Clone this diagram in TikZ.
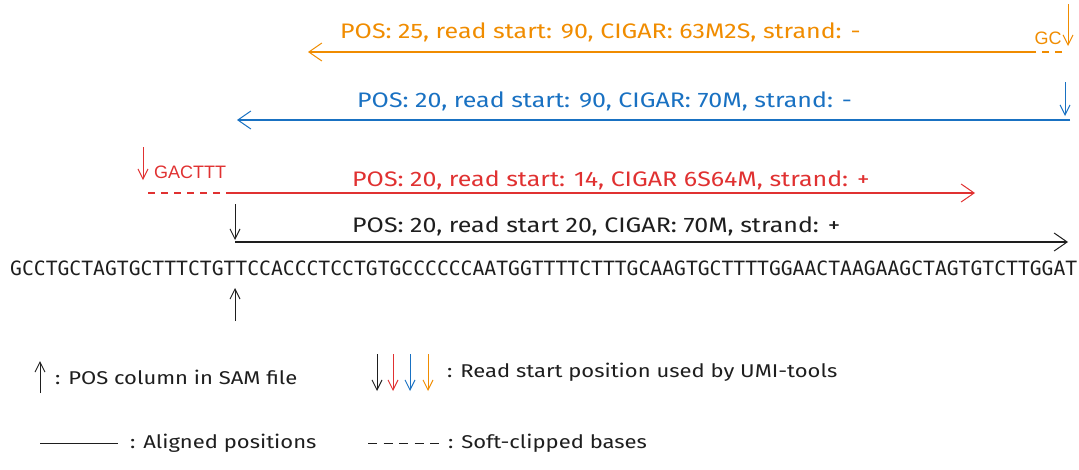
\documentclass[tikz,border=0pt]{standalone}
\usepackage{fontspec}
\setmainfont{Fira Sans}
\newfontfamily\hand{Fira Sans}[FakeStretch=1.19]
\newfontfamily\seqfont{DejaVu Sans Mono}
\newfontfamily\clipfont{Liberation Sans}
\usetikzlibrary{arrows.meta}
\definecolor{cblack}{HTML}{1E1E1E}
\definecolor{cred}{HTML}{E03131}
\definecolor{cblue}{HTML}{1971C2}
\definecolor{corange}{HTML}{F08C00}
\tikzset{
  readline/.style={line width=1.4pt, -{Straight Barb[length=13pt,width=18pt,line width=1pt]}},
  softclip/.style={line width=1.2pt, dash pattern=on 7pt off 6pt},
  startarrow/.style={line width=1pt, -{Straight Barb[length=10pt,width=10pt]}},
  lbl/.style={font=\hand\fontsize{21}{23}\selectfont, inner sep=0pt, anchor=west},
  leg/.style={font=\hand\fontsize{18.5}{20}\selectfont, inner sep=0pt, anchor=west},
}
\begin{document}
\begin{tikzpicture}[x=1pt,y=-1pt]
\useasboundingbox (0,0) rectangle (1079,469);

% orange read
\coordinate (o1) at (1062,52);
\coordinate (o2) at (1033,52);
\coordinate (o3) at (308,52);
\draw[corange, softclip] (o1) -- (o2);
\draw[corange, readline] (o2) -- (o3);
\node[lbl, text=corange] (olab) at (340,32) {POS: 25, read start: 90, CIGAR: 63M2S, strand: -};
\node[font=\clipfont\fontsize{18}{19}\selectfont, text=corange, inner sep=0pt] (ogc) at (1048,38) {GC};
\coordinate (os1) at (1068,4);
\coordinate (os2) at (1068,46);
\draw[corange, startarrow] (os1) -- (os2);

% blue read
\coordinate (b1) at (1070,120);
\coordinate (b2) at (237,120);
\draw[cblue, readline] (b1) -- (b2);
\node[lbl, text=cblue] (blab) at (357,101) {POS: 20, read start: 90, CIGAR: 70M, strand: -};
\coordinate (bs1) at (1065,82);
\coordinate (bs2) at (1065,116);
\draw[cblue, startarrow] (bs1) -- (bs2);

% red read
\coordinate (r0) at (148,193);
\coordinate (r1) at (229,193);
\coordinate (r2) at (975,193);
\draw[cred, softclip] (r0) -- (r1);
\draw[cred, readline] (r1) -- (r2);
\node[lbl, text=cred] (rlab) at (352,180) {POS: 20, read start: 14, CIGAR 6S64M, strand: +};
\node[font=\clipfont\fontsize{18}{19}\selectfont, text=cred, inner sep=0pt, anchor=west] (rgac) at (154,172) {GACTTT};
\coordinate (rs1) at (143,147);
\coordinate (rs2) at (143,180);
\draw[cred, startarrow] (rs1) -- (rs2);

% black read
\coordinate (k1) at (235,242);
\coordinate (k2) at (1068,242);
\draw[cblack, readline] (k1) -- (k2);
\node[lbl, text=cblack] (klab) at (352,226) {POS: 20, read start 20, CIGAR: 70M, strand: +};
\coordinate (ks1) at (235,204);
\coordinate (ks2) at (235,240);
\draw[cblack, startarrow] (ks1) -- (ks2);

% reference sequence
\node[inner sep=0pt, anchor=west, text=cblack] (seq) at (10,268) {\resizebox{1067pt}{!}{\seqfont GCCTGCTAGTGCTTTCTGTTCCACCCTCCTGTGCCCCCCAATGGTTTTCTTTGCAAGTGCTTTTGGAACTAAGAAGCTAGTGTCTTGGAT}};

% POS arrow
\coordinate (p1) at (235,321);
\coordinate (p2) at (235,288);
\draw[cblack, startarrow] (p1) -- (p2);

% legend
\coordinate (l1a) at (40,393);
\coordinate (l1b) at (40,361);
\draw[cblack, startarrow] (l1a) -- (l1b);
\node[leg, text=cblack] (l1t) at (55,377) {: POS column in SAM file};

\foreach \xx/\cc [count=\i] in {377/cblack,393/cred,410/cblue,428/corange}{
  \coordinate (ld\i a) at (\xx,354);
  \coordinate (ld\i b) at (\xx,391);
  \draw[\cc, startarrow] (ld\i a) -- (ld\i b);
}
\node[leg, text=cblack] (l2t) at (447,372) {: Read start position used by UMI-tools};

\coordinate (l3a) at (40,443);
\coordinate (l3b) at (118,443);
\draw[cblack, line width=1pt] (l3a) -- (l3b);
\node[leg, text=cblack] (l3t) at (130,443) {: Aligned positions};

\coordinate (l4a) at (368,443);
\coordinate (l4b) at (439,443);
\draw[cblack, line width=1pt, dash pattern=on 9pt off 6.5pt] (l4a) -- (l4b);
\node[leg, text=cblack] (l4t) at (448,443) {: Soft-clipped bases};
\end{tikzpicture}
\end{document}
